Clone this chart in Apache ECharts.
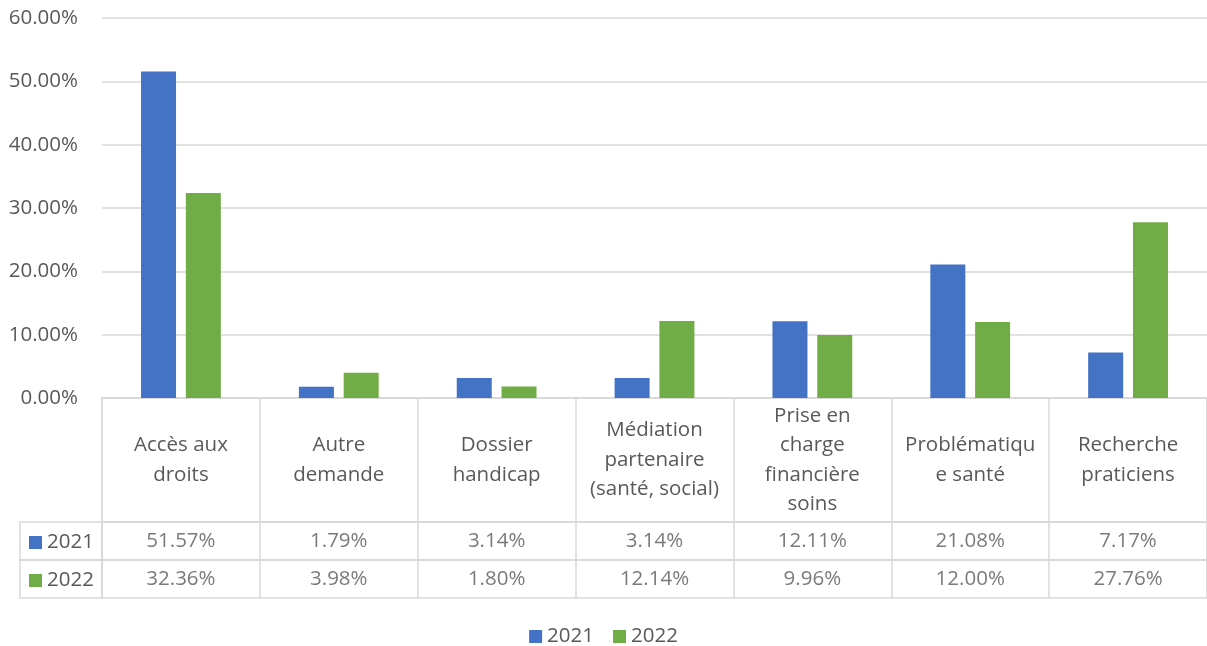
<!DOCTYPE html>
<html>
<head>
<meta charset="utf-8">
<script src="https://cdn.jsdelivr.net/npm/echarts@6/dist/echarts.min.js"></script>
<style>
  html, body { margin: 0; padding: 0; background: #fff; }
  #chart { width: 1207px; height: 646px; }
</style>
</head>
<body>
<div id="chart"></div>
<script>
// Données
const categories = [
  'Accès aux\ndroits',
  'Autre\ndemande',
  'Dossier\nhandicap',
  'Médiation\npartenaire\n(santé, social)',
  'Prise en\ncharge\nfinancière\nsoins',
  'Problématiqu\ne santé',
  'Recherche\npraticiens'
]
const seriesNames = ['2021', '2022']
const values2021 = [51.57, 1.79, 3.14, 3.14, 12.11, 21.08, 7.17]
const values2022 = [32.36, 3.98, 1.80, 12.14, 9.96, 12.00, 27.76]
const yTicks = { min: 0, max: 60, interval: 10 }

const colors = ['#4472c4', '#70ad47']
const textColor = '#595959'
const lineColor = '#d9d9d9'
const font = '"Open Sans", "Liberation Sans", sans-serif'
const fontSize = 20.5

const pct = v => v.toFixed(2) + '%'

// grilles : graphique, en-tête du tableau, lignes de valeurs, entêtes de lignes
const grids = [
  { left: 102, right: 0, top: 18, height: 380 },
  { left: 102, right: 0, top: 398, height: 124, show: true, borderColor: lineColor, borderWidth: 1.5 },
  { left: 102, right: 0, top: 522, height: 38, show: true, borderColor: lineColor, borderWidth: 1.5 },
  { left: 102, right: 0, top: 560, height: 38, show: true, borderColor: lineColor, borderWidth: 1.5 },
  { left: 20, width: 82, top: 522, height: 38, show: true, borderColor: lineColor, borderWidth: 1.5 },
  { left: 20, width: 82, top: 560, height: 38, show: true, borderColor: lineColor, borderWidth: 1.5 }
]

const tableXAxis = (gridIndex, showLabels) => ({
  type: 'category',
  gridIndex,
  data: categories,
  boundaryGap: true,
  position: 'top',
  axisLine: { show: false },
  axisTick: { show: false },
  splitLine: { show: true, interval: 0, lineStyle: { color: lineColor, width: 1.5 } },
  axisLabel: {
    show: showLabels,
    interval: 0,
    margin: -62,
    verticalAlign: 'middle',
    color: textColor,
    fontFamily: font,
    fontSize,
    lineHeight: 29.5
  }
})

const hiddenY = gridIndex => ({
  type: 'value', gridIndex, min: 0, max: 1, show: false
})

const rowSeries = (gridIndex, data) => ({
  type: 'scatter',
  xAxisIndex: gridIndex,
  yAxisIndex: gridIndex,
  symbolSize: 1,
  itemStyle: { color: 'rgba(0,0,0,0)' },
  silent: true,
  label: {
    show: true,
    position: 'inside',
    formatter: p => pct(data[p.dataIndex]),
    color: textColor,
    fontFamily: font,
    fontSize
  },
  data: data.map((v, i) => [i, 0.5])
})

const legendBase = {
  icon: 'rect',
  itemWidth: 13,
  itemHeight: 13,
  itemGap: 19,
  selectedMode: false,
  textStyle: { color: textColor, fontFamily: font, fontSize }
}

const option = {
  animation: false,
  color: colors,
  grid: grids,
  legend: [
    { ...legendBase, data: seriesNames, left: 'center', top: 621 },
    { ...legendBase, data: ['2021'], left: 24, top: 527 },
    { ...legendBase, data: ['2022'], left: 24, top: 565 }
  ],
  xAxis: [
    {
      type: 'category',
      gridIndex: 0,
      data: categories,
      axisLine: { show: true, lineStyle: { color: lineColor, width: 1.5 } },
      axisTick: { show: false },
      axisLabel: { show: false }
    },
    tableXAxis(1, true),
    tableXAxis(2, false),
    tableXAxis(3, false),
    { type: 'category', gridIndex: 4, data: [''], show: false },
    { type: 'category', gridIndex: 5, data: [''], show: false }
  ],
  yAxis: [
    {
      type: 'value',
      gridIndex: 0,
      min: yTicks.min,
      max: yTicks.max,
      interval: yTicks.interval,
      axisLine: { show: false },
      axisTick: { show: false },
      splitLine: { lineStyle: { color: lineColor, width: 1.5 } },
      axisLabel: {
        formatter: v => pct(v),
        color: textColor,
        fontFamily: font,
        fontSize,
        margin: 24
      }
    },
    hiddenY(1), hiddenY(2), hiddenY(3), hiddenY(4), hiddenY(5)
  ],
  series: [
    {
      name: '2021',
      type: 'bar',
      data: values2021,
      barWidth: 35,
      barGap: '28%'
    },
    {
      name: '2022',
      type: 'bar',
      data: values2022,
      barWidth: 35,
      barGap: '28%'
    },
    rowSeries(2, values2021),
    rowSeries(3, values2022)
  ]
}

const chart = echarts.init(document.getElementById('chart'))
chart.setOption(option)
window.addEventListener('resize', () => chart.resize())
</script>
</body>
</html>
